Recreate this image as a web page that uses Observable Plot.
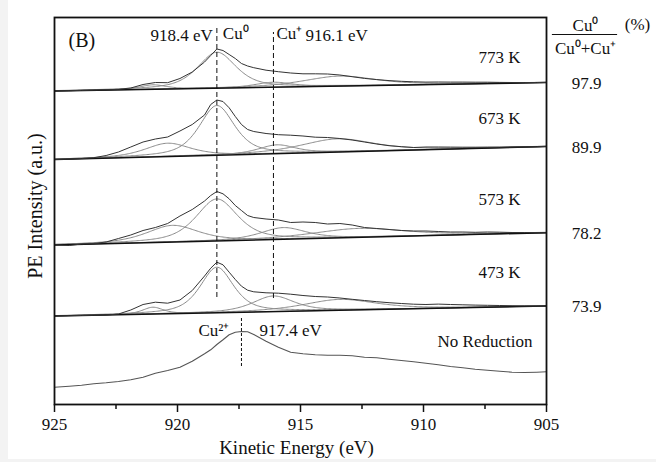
<!DOCTYPE html>
<html>
<head>
<meta charset="utf-8">
<script src="https://cdn.jsdelivr.net/npm/d3@7"></script>
<script src="https://cdn.jsdelivr.net/npm/@observablehq/plot@0.6"></script>
<style>
  html, body { margin: 0; padding: 0; background: #f3f3f3; }
  #sheet { position: absolute; left: 8px; top: 0; width: 648px; height: 459px; background: #fff; }
  #chart { position: absolute; left: 0; top: 0; }
</style>
</head>
<body>
<div id="sheet"></div>
<div id="chart"></div>
<script>
// Cu LMM Auger spectra (kinetic energy, eV) after reduction at several temperatures.
const energy = [925, 924.4, 923.9, 923.4, 922.9, 922.4, 921.9, 921.4, 920.9, 920.4, 919.9, 919.4, 918.9,
  918.65, 918.4, 918.15, 917.9, 917.65, 917.4, 917.15, 916.9,
  916.4, 915.9, 915.4, 914.9, 914.4, 913.9, 913.4, 912.9, 912.4, 911.9, 911.4, 910.9, 910.4, 909.9,
  909.4, 908.9, 908.4, 907.9, 907.4, 906.9, 906.4, 905.9, 905.4, 905];

// measured intensities (a.u., stacked with offsets)
const i773 = [313.5, 313.8, 314.1, 314.4, 314.8, 315.2, 316.5, 320, 322, 321.8, 326, 332.5, 342.5,
  349, 355.5, 354, 350, 346, 341, 338.5, 336.8,
  334.3, 332.8, 331.5, 330.7, 330.7, 330.5, 329.5, 327.8, 326.1, 324.9, 323.9, 323.2, 322.7, 322.4,
  322.5, 322.4, 322.4, 322.3, 322.3, 322.1, 322, 322, 322, 322];
const i673 = [245, 245.5, 246, 246.8, 249, 252.5, 257.5, 262.5, 265.5, 267.5, 273.5, 280, 289.5,
  300, 304.5, 303, 296.7, 288, 280, 275, 273,
  271, 269.8, 269.3, 268.5, 267.3, 267, 266, 264.5, 262.5, 260.5, 258.8, 257.8, 257, 257.5,
  257.5, 257.4, 257.3, 257.3, 257.4, 257.4, 257.5, 257.6, 257.8, 258];
const i573 = [159.5, 159, 160.5, 161, 162.5, 166, 169.5, 174, 177, 181, 188.5, 195, 203.5,
  209, 213, 210.7, 205.7, 199, 194, 189, 187,
  185.5, 184.5, 182, 182.5, 182, 180.5, 181, 179.5, 177, 176, 175, 174, 173.5, 173.5,
  173, 172.5, 172.5, 172.2, 172.5, 172.3, 172, 172, 171.8, 171.8];
const i473 = [88.5, 88.8, 89, 89.3, 89.5, 90.5, 94.5, 100, 102.3, 101.3, 104.5, 114, 128.5,
  136.3, 142.3, 139.7, 132.3, 125, 118.3, 114.3, 112.7,
  111.7, 111.3, 110.3, 109, 108, 107.5, 106.5, 105.2, 104, 102.8, 101.8, 101, 100.3, 100,
  100.4, 100, 99.7, 99.4, 99.2, 99, 98.8, 98.6, 98.4, 98.3];
const iNoRed = [17.3, 18.3, 19.3, 20.7, 21.7, 23, 24.7, 27.3, 31.3, 34, 37.3, 43.3, 50.7,
  54.7, 60, 64.7, 69.7, 72.3, 73, 72.7, 70,
  63.3, 57.3, 52.3, 50.7, 49.7, 49.3, 49.3, 48.7, 47.3, 46.7, 45.3, 44, 42.7, 41.3,
  39.7, 38, 36.7, 35.3, 34.3, 33.3, 32.3, 32, 32.3, 32.7];

const temps = ["773 K", "673 K", "573 K", "473 K"];
const cuRatio = [97.9, 89.9, 78.2, 73.9];          // Cu0/(Cu0+Cu+) in %
const bg925 = [313.5, 245, 159.5, 88.5];           // linear background at 925 eV
const bg905 = [322, 258, 171.8, 98.5];             // linear background at 905 eV

// reference peak positions: Cu0, Cu+, Cu2+
const peakE = [918.4, 916.1, 917.4];

// fitted components (pseudo-Voigt): satellite, Cu0, Cu+, broad loss feature
const satE = [921.0, 920.4, 920.2, 921.0];
const satH = [4.5, 13.3, 16.7, 6.8];
const satW = [1.3, 2.2, 2.5, 1.0];
const cu0H = [36, 49.7, 42, 45.5];
const cu0W = [1.85, 1.7, 2.0, 1.6];
const cu1E = [916.1, 915.95, 915.7, 916.1];
const cu1H = [5, 8.8, 11.7, 15.6];
const cu1W = [1.8, 1.8, 2.2, 2.0];
const broadE = [913.4, 913.5, 912.6, 913.4];
const broadH = [10, 13.2, 9, 10.8];
const broadW = [3.5, 3.5, 4.5, 3.5];

// ---- derived geometry ----
const bgAt = (i, e) => bg925[i] + (bg905[i] - bg925[i]) * (925 - e) / 20;
const pseudoVoigt = (e, c, h, w) => {
  const q = 4 * ((e - c) / w) ** 2;
  return h * (0.6 / (1 + q) + 0.4 * Math.exp(-Math.LN2 * q));
};
const fine = d3.range(905, 925.0001, 0.05);
const compRows = [];
temps.forEach((_, i) => {
  const comps = [
    [satE[i], satH[i], satW[i]],
    [peakE[0], cu0H[i], cu0W[i]],
    [cu1E[i], cu1H[i], cu1W[i]],
    [broadE[i], broadH[i], broadW[i]]
  ];
  comps.forEach(([c, h, w], j) => {
    for (const e of fine) compRows.push({E: e, v: bgAt(i, e) + pseudoVoigt(e, c, h, w), key: `${i}-${j}`});
  });
});

const reduced = [i773, i673, i573, i473];
const dataRows = reduced.flatMap((arr, s) => energy.map((e, k) => ({E: e, v: arr[k], s})));
const noRedRows = energy.map((e, k) => ({E: e, v: iNoRed[k]}));
const idx = d3.range(temps.length);
const labelLift = [25, 28, 33, 33.5];

const serif = "Liberation Serif, Times New Roman, serif";
const mid = {textAnchor: "middle", lineAnchor: "middle"};

const chart = Plot.plot({
  width: 656,
  height: 462,
  marginLeft: 54,
  marginRight: 110,
  marginTop: 17,
  marginBottom: 58,
  x: {domain: [925, 905]},
  y: {domain: [0, 387], axis: null},
  style: {fontFamily: serif, fontSize: "17px", color: "#111", background: "transparent"},
  marks: [
    // fitted components
    Plot.line(compRows, {x: "E", y: "v", z: "key", stroke: "#8a8a8a", strokeWidth: 1}),
    // linear backgrounds
    Plot.link(idx, {x1: 925, x2: 905, y1: i => bg925[i], y2: i => bg905[i], stroke: "#111", strokeWidth: 1.5}),
    // measured spectra
    Plot.line(dataRows, {x: "E", y: "v", z: "s", stroke: "#333", strokeWidth: 1}),
    Plot.line(noRedRows, {x: "E", y: "v", stroke: "#555", strokeWidth: 1.1}),
    // peak position markers
    Plot.ruleX([peakE[0]], {y1: 107, y2: 377, stroke: "#111", strokeDasharray: "5,3"}),
    Plot.ruleX([peakE[1]], {y1: 106, y2: 372, stroke: "#111", strokeDasharray: "5,3"}),
    Plot.ruleX([peakE[2]], {y1: 38, y2: 87, stroke: "#111", strokeDasharray: "3,2"}),
    Plot.frame({stroke: "#111", strokeWidth: 1.8}),
    Plot.axisX({ticks: [925, 920, 915, 910, 905], tickSize: 8, tickPadding: 5, fontSize: 17, label: null, strokeWidth: 1.5}),
    Plot.axisX({ticks: [922.5, 917.5, 912.5, 907.5], tickSize: 5, tickFormat: () => "", label: null, strokeWidth: 1.5}),
    // peak annotations
    Plot.text([peakE[0]], {x: d => d, frameAnchor: "top", dy: 18, dx: -4, textAnchor: "end", lineAnchor: "middle", text: d => `${d} eV`}),
    Plot.text([peakE[0]], {x: d => d, frameAnchor: "top", dy: 16, dx: 6, textAnchor: "start", lineAnchor: "middle", text: () => "Cu⁰"}),
    Plot.text([peakE[1]], {x: d => d, frameAnchor: "top", dy: 16, dx: 3, textAnchor: "start", lineAnchor: "middle", text: () => "Cu⁺"}),
    Plot.text([peakE[1]], {x: d => d, frameAnchor: "top", dy: 18, dx: 32, textAnchor: "start", lineAnchor: "middle", text: d => `${d} eV`}),
    Plot.text([peakE[2]], {x: d => d, y: 74, dx: -12, textAnchor: "end", text: () => "Cu²⁺"}),
    Plot.text([peakE[2]], {x: d => d, y: 74, dx: 18, textAnchor: "start", text: d => `${d} eV`}),
    // spectrum labels
    Plot.text(idx, {x: 905, y: i => bg905[i] + labelLift[i], dx: -26, textAnchor: "end", text: i => temps[i]}),
    Plot.text(["No Reduction"], {x: 905, y: 63, dx: -14, textAnchor: "end"}),
    Plot.text(idx, {x: 905, y: i => bg905[i] - 1, dx: 40, text: i => cuRatio[i].toFixed(1)}),
    // ratio header
    Plot.text(["Cu⁰"], {frameAnchor: "top-right", dx: 39, dy: 8, ...mid}),
    Plot.text(["Cu⁰+Cu⁺"], {frameAnchor: "top-right", dx: 39, dy: 31, ...mid}),
    Plot.text(["(%)"], {frameAnchor: "top-right", dx: 91, dy: 7, ...mid}),
    Plot.ruleY([370], {x1: 904.76, x2: 902.11, stroke: "#111", strokeWidth: 1}),
    Plot.text(["(B)"], {frameAnchor: "top-left", dx: 14, dy: 23, textAnchor: "start", lineAnchor: "middle", fontSize: 20}),
    // axis titles
    Plot.text(["Kinetic Energy (eV)"], {frameAnchor: "bottom", dy: 43, dx: -4, fontSize: 19, ...mid}),
    Plot.text(["PE Intensity (a.u.)"], {frameAnchor: "left", dx: -19, dy: -5, rotate: -90, fontSize: 20, ...mid})
  ]
});
document.getElementById("chart").appendChild(chart);
</script>
</body>
</html>
